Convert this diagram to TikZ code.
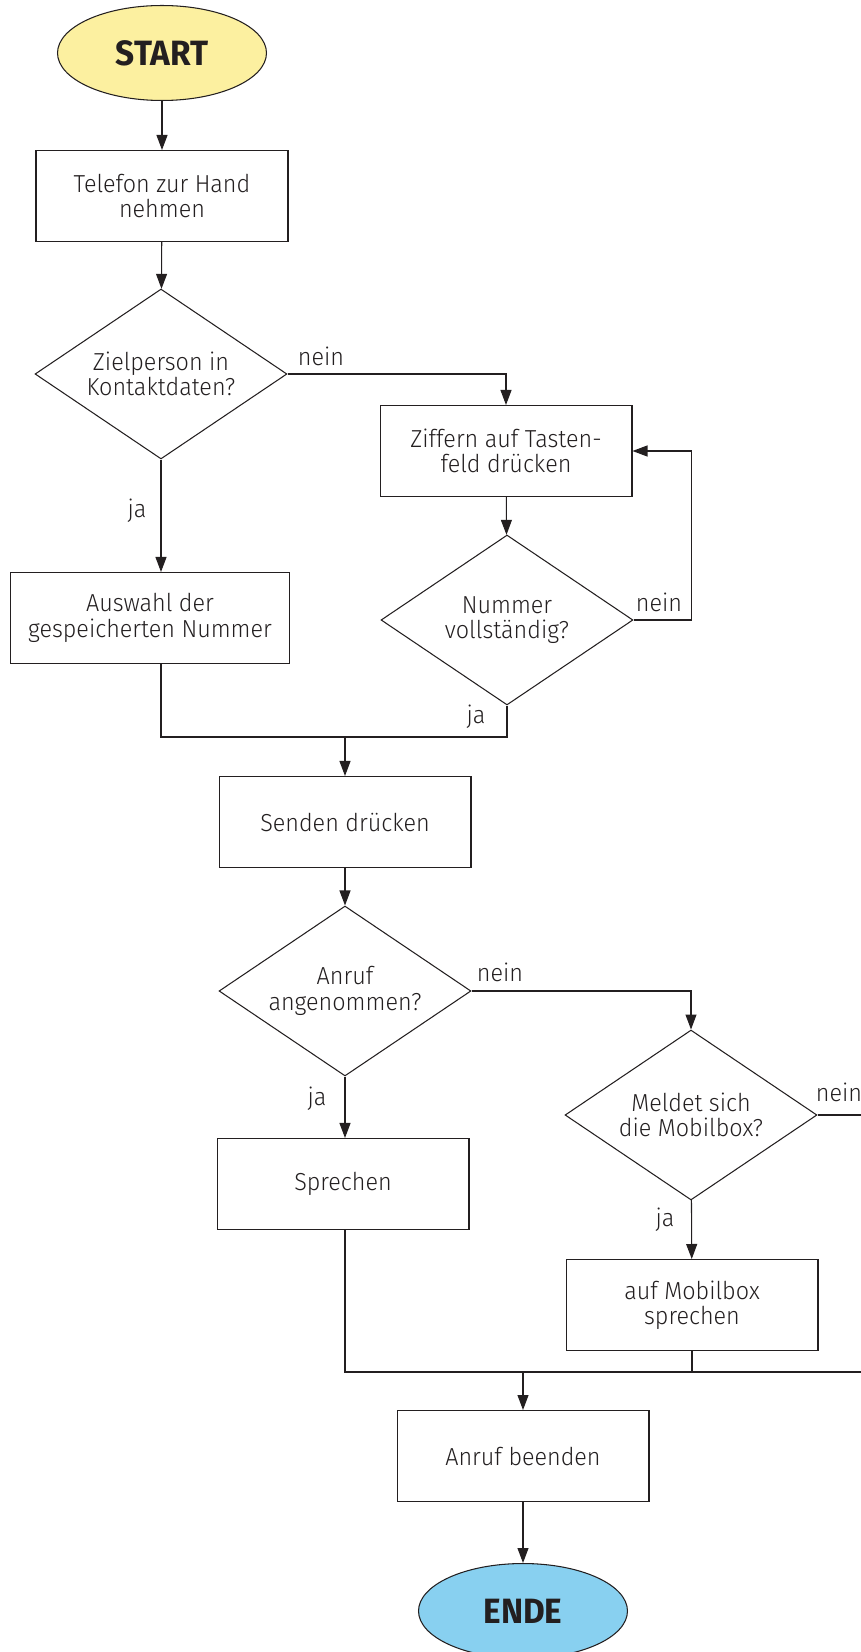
\documentclass[tikz,border=0pt]{standalone}
\usepackage{fontspec}
\setmainfont{Fira Sans Light}[FakeStretch=0.95, BoldFont={Fira Sans Bold}, BoldFeatures={FakeStretch=0.95}]
\usetikzlibrary{shapes.geometric,arrows.meta}
\definecolor{ink}{HTML}{231F20}
\definecolor{startgelb}{HTML}{FCF0A0}
\definecolor{endeblau}{HTML}{88D0F0}
\tikzset{
	box/.style={draw=ink, line width=0.6pt, minimum width=5.04cm, minimum height=1.82cm, align=center, inner sep=0pt},
	frage/.style={draw=ink, line width=0.6pt, diamond, aspect=1.49, minimum width=5.04cm, minimum height=3.4cm, align=center, inner sep=0pt},
	terminal/.style={draw=ink, line width=0.6pt, ellipse, minimum width=4.18cm, minimum height=1.9cm, inner sep=0pt, font=\fontsize{20}{21}\selectfont\bfseries},
	pfeil/.style={draw=ink, line width=0.6pt, -{Triangle[length=0.3cm,width=0.22cm]}},
	linie/.style={draw=ink, line width=0.6pt},
	marke/.style={inner sep=0pt}
}
\begin{document}
\begin{tikzpicture}[x=0.02cm, y=-0.02cm, font=\fontsize{14}{14.5}\selectfont, text=ink]
		\useasboundingbox (0,0) rectangle (860,1652);

		\node [terminal, fill=startgelb] (start) at (162,53) {START};
		\node [box] (telefon) at (162,196) {Telefon zur Hand\\nehmen};
		\node [frage] (ziel) at (161,374) {Zielperson in\\Kontaktdaten?};
		\node [box, minimum width=5.58cm] (auswahl) at (150,618) {Auswahl der\\gespeicherten Nummer};
		\node [box] (tasten) at (506,451) {Ziffern auf Tasten-\\feld drücken};
		\node [frage] (voll) at (507,620) {Nummer\\vollständig?};
		\node [box] (senden) at (345,822) {Senden drücken};
		\node [frage] (anruf) at (345,991) {Anruf\\angenommen?};
		\node [box] (sprechen) at (343,1184) {Sprechen};
		\node [frage] (mobil) at (691,1115) {Meldet sich\\die Mobilbox?};
		\node [box] (box_sprechen) at (692,1305) {auf Mobilbox\\sprechen};
		\node [box] (beenden) at (523,1456) {Anruf beenden};
		\node [terminal, fill=endeblau] (ende) at (523,1611) {ENDE};

		\coordinate (m_0) at (345,737);
		\coordinate (m_1) at (523,1372);
		\coordinate (r_0) at (900,1372);

		\draw [pfeil] (start) -- (telefon);
		\draw [pfeil] (telefon) -- (ziel);
		\draw [pfeil] (ziel.east) -| (tasten.north);
		\draw [pfeil] (ziel.south) -- (ziel.south |- auswahl.north);
		\draw [pfeil] (tasten) -- (voll);
		\draw [pfeil] (voll.east) -- ++(58,0) |- (tasten.east);
		\draw [linie] (ziel.south |- auswahl.south) -- (ziel.south |- m_0) -- (voll.south |- m_0) -- (voll.south);
		\draw [pfeil] (m_0) -- (senden);
		\draw [pfeil] (senden) -- (anruf);
		\draw [pfeil] (anruf.east) -| (mobil.north);
		\draw [pfeil] (anruf.south) -- (anruf.south |- sprechen.north);
		\draw [pfeil] (mobil) -- (box_sprechen);
		\draw [linie] (mobil.east) -| (r_0);
		\draw [linie] (anruf.south |- sprechen.south) -- (anruf.south |- m_1) -- (r_0);
		\draw [linie] (box_sprechen) -- (box_sprechen |- m_1);
		\draw [pfeil] (m_1) -- (beenden);
		\draw [pfeil] (beenden) -- (ende);

		\node [marke] (l_nein1) at (321,356) {nein};
		\node [marke] (l_ja1) at (137,511) {ja};
		\node [marke] (l_nein2) at (659,602) {nein};
		\node [marke] (l_ja2) at (476,717) {ja};
		\node [marke] (l_nein3) at (500,972) {nein};
		\node [marke] (l_ja3) at (317,1099) {ja};
		\node [marke] (l_nein4) at (839,1092) {nein};
		\node [marke] (l_ja4) at (665,1220) {ja};

	\end{tikzpicture}
\end{document}
